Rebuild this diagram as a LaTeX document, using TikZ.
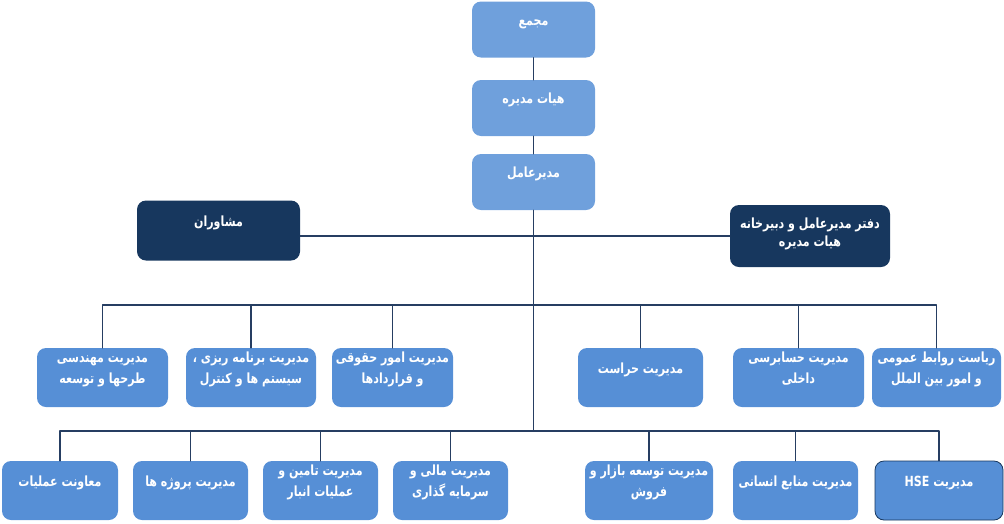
\documentclass[tikz,border=0pt]{standalone}
\usepackage{fontspec}
\newfontfamily\fafont[Script=Arabic,FakeStretch=0.79]{DejaVu Sans}
\TeXXeTstate=1

\definecolor{topblue}{RGB}{111,160,220}
\definecolor{rowblue}{RGB}{86,143,214}
\definecolor{darknavy}{RGB}{23,55,94}
\definecolor{lineblue}{RGB}{38,62,98}

% one line of persian text, right to left
\newcommand{\fa}[1]{\beginR#1\endR}
% text set in the upper part of a box
\newcommand{\boxlabel}[1]{\raisebox{5pt}[0pt][0pt]{\makebox[0pt]{\begin{tabular}{@{}c@{}}#1\end{tabular}}}}

\tikzset{
  orgbox/.style={rounded corners=9pt, inner sep=0pt, text=white,
    font={\fafont\bfseries\fontsize{14}{21}\selectfont}},
  topbox/.style={orgbox, fill=topblue, minimum width=123pt, minimum height=56pt},
  sidebox/.style={orgbox, fill=darknavy, minimum height=60pt},
  unitbox/.style={orgbox, fill=rowblue, minimum height=59pt},
  link/.style={draw=lineblue, line width=1.4pt}
}

\begin{document}
\begin{tikzpicture}[x=1pt,y=-1pt,line cap=round,line join=round]
  \useasboundingbox (0,0) rectangle (1004,523);

  % top of the chart
  \node[topbox] (majma) at (533.5,29.5) {\boxlabel{\fa{مجمع}}};
  \node[topbox] (heyat) at (533.5,108) {\boxlabel{\fa{هیات مدیره}}};
  \node[topbox] (modir) at (533.5,182) {\boxlabel{\fa{مدیرعامل}}};

  \node[sidebox, minimum width=163pt] (moshaver) at (218.5,230.5) {\boxlabel{\fa{مشاوران}}};
  \node[sidebox, minimum width=160pt, minimum height=62pt] (daftar) at (810,236)
    {\raisebox{-1pt}[0pt][0pt]{\makebox[0pt]{\begin{tabular}{@{}c@{}}\fa{دفتر مدیرعامل و دبیرخانه}\\[-3pt] \fa{هیات مدیره}\end{tabular}}}};

  % first row of units
  \node[unitbox, minimum width=131pt] (mohandesi) at (102.5,377.5) {\boxlabel{\fa{مدیریت مهندسی}\\ \fa{طرحها و توسعه}}};
  \node[unitbox, minimum width=130pt] (barname) at (251,377.5) {\boxlabel{\fa{مدیریت برنامه ریزی ،}\\ \fa{سیستم ها و کنترل}}};
  \node[unitbox, minimum width=121pt] (hoghoghi) at (392.5,377.5) {\boxlabel{\fa{مدیریت امور حقوقی}\\ \fa{و قراردادها}}};
  \node[unitbox, minimum width=125pt] (herasat) at (640.5,377.5) {\boxlabel{\fa{مدیریت حراست}}};
  \node[unitbox, minimum width=131pt] (hesabresi) at (798.5,377.5) {\boxlabel{\fa{مدیریت حسابرسی}\\ \fa{داخلی}}};
  \node[unitbox, minimum width=129pt] (ravabet) at (936.5,377.5) {\boxlabel{\fa{ریاست روابط عمومی}\\ \fa{و امور بین الملل}}};

  % second row of units
  \node[unitbox, minimum width=116pt] (amaliyat) at (60,490.5) {\boxlabel{\fa{معاونت عملیات}}};
  \node[unitbox, minimum width=115pt] (projeh) at (190.5,490.5) {\boxlabel{\fa{مدیریت پروژه ها}}};
  \node[unitbox, minimum width=115pt] (tamin) at (320.5,490.5) {\boxlabel{\fa{مدیریت تامین و}\\ \fa{عملیات انبار}}};
  \node[unitbox, minimum width=115pt] (mali) at (450.5,490.5) {\boxlabel{\fa{مدیریت مالی و}\\ \fa{سرمایه گذاری}}};
  \node[unitbox, minimum width=128pt] (bazar) at (649,490.5) {\boxlabel{\fa{مدیریت توسعه بازار و}\\ \fa{فروش}}};
  \node[unitbox, minimum width=125pt] (ensani) at (795.5,490.5) {\boxlabel{\fa{مدیریت منابع انسانی}}};
  \node[unitbox, draw=darknavy, line width=0.8pt, minimum width=128pt] (hse) at (939,490.5)
    {\boxlabel{\fa{مدیریت \beginL HSE\endL}}};

  % connectors
  \coordinate (side) at (533.5,236);
  \coordinate (bus1) at (533.5,305);
  \coordinate (bus2) at (533.5,431);

  \draw[link] (majma) -- (heyat);
  \draw[link] (heyat) -- (modir);
  \draw[link] (modir.south) -- (bus2);
  \draw[link] (moshaver.east |- side) -- (daftar.west |- side);

  \foreach \unit in {mohandesi,barname,hoghoghi,herasat,hesabresi,ravabet}
    \draw[link] (bus1) -| (\unit.north);
  \foreach \unit in {amaliyat,projeh,tamin,mali,bazar,ensani,hse}
    \draw[link] (bus2) -| (\unit.north);
\end{tikzpicture}
\end{document}
